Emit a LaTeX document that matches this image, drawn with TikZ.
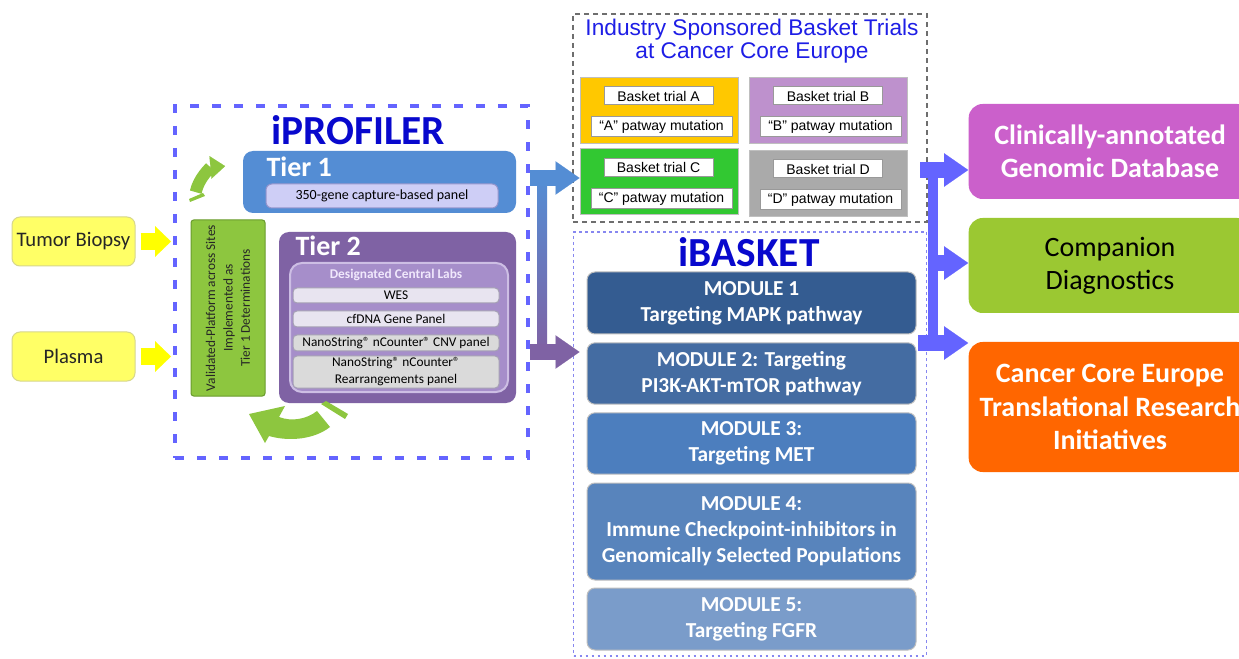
\documentclass[tikz,border=0pt]{standalone}
\usepackage{fontspec}
\setmainfont{Carlito}
\newfontfamily\arialfont{Liberation Sans}
\usetikzlibrary{arrows.meta}

\definecolor{srcyellow}{RGB}{255,255,102}
\definecolor{srcedge}{RGB}{215,215,140}
\definecolor{arrowyellow}{RGB}{255,255,0}
\definecolor{dashblue}{RGB}{100,100,255}
\definecolor{titleblue}{RGB}{8,8,205}
\definecolor{tierblue}{RGB}{84,141,212}
\definecolor{tierpurple}{RGB}{127,98,164}
\definecolor{labpurple}{RGB}{166,142,202}
\definecolor{labedge}{RGB}{205,190,228}
\definecolor{labtext}{RGB}{240,232,252}
\definecolor{panelblue}{RGB}{206,206,246}
\definecolor{paneledge}{RGB}{150,150,205}
\definecolor{itemlav}{RGB}{232,228,240}
\definecolor{itemgray}{RGB}{218,218,218}
\definecolor{itemedge}{RGB}{165,160,180}
\definecolor{leafgreen}{RGB}{141,198,63}
\definecolor{leafedge}{RGB}{105,155,45}
\definecolor{trialgray}{RGB}{110,110,110}
\definecolor{trialtitle}{RGB}{30,30,230}
\definecolor{trialA}{RGB}{255,200,0}
\definecolor{trialB}{RGB}{190,145,205}
\definecolor{trialC}{RGB}{50,200,50}
\definecolor{trialD}{RGB}{170,170,170}
\definecolor{dotblue}{RGB}{135,135,240}
\definecolor{modA}{RGB}{52,92,145}
\definecolor{modB}{RGB}{68,108,162}
\definecolor{modC}{RGB}{76,126,190}
\definecolor{modD}{RGB}{88,132,188}
\definecolor{modE}{RGB}{122,156,202}
\definecolor{outmagenta}{RGB}{203,96,203}
\definecolor{outgreen}{RGB}{155,200,50}
\definecolor{outorange}{RGB}{255,102,0}

\tikzset{every picture/.style={line width=0.75pt}}
\tikzset{
	profilerframe/.style={draw=dashblue, line width=3pt, dash pattern=on 7pt off 9.5pt, minimum width=264.75pt, minimum height=264pt, inner sep=0pt},
	trialframe/.style={draw=trialgray, line width=1.5pt, dash pattern=on 3.75pt off 3pt, minimum width=265.5pt, minimum height=156pt, inner sep=0pt},
	basketframe/.style={draw=dotblue, line width=1.1pt, dash pattern=on 2pt off 2.5pt, minimum width=264.75pt, minimum height=318pt, inner sep=0pt},
	bigtitle/.style={text=titleblue, font=\fontsize{31}{36}\selectfont\bfseries, inner sep=0pt},
	trialheading/.style={text=trialtitle, align=center, font=\arialfont\fontsize{17}{17.3}\selectfont, inner sep=0pt},
	srcbox/.style={draw=srcedge, fill=srcyellow, rounded corners=6pt, minimum width=92.25pt, minimum height=36.75pt, inner sep=0pt, text=black!85, font=\fontsize{15.5}{18}\selectfont},
	validbox/.style={draw=leafedge, fill=leafgreen, rounded corners=2pt, minimum width=132pt, minimum height=55.5pt, inner sep=0pt, align=center, text=black!85, font=\fontsize{10}{13}\selectfont},
	tierbox/.style={rounded corners=7.5pt, inner sep=0pt},
	tierlabel/.style={text=white, font=\fontsize{21}{25}\selectfont\bfseries, inner sep=0pt},
	panelbox/.style={draw=paneledge, fill=panelblue, rounded corners=4.5pt, minimum width=174pt, minimum height=18pt, inner sep=0pt, font=\fontsize{10.5}{12}\selectfont},
	labbox/.style={draw=labedge, line width=1.5pt, fill=labpurple, rounded corners=9pt, minimum width=163.5pt, minimum height=96.75pt, inner sep=0pt},
	labtitle/.style={text=labtext, font=\fontsize{10}{12}\selectfont\bfseries, inner sep=0pt},
	labitem/.style={draw=itemedge, rounded corners=3pt, minimum width=154.5pt, minimum height=12pt, inner sep=0pt, align=center, font=\fontsize{10}{12.75}\selectfont},
	trialbox/.style={draw=black!25, minimum width=118.5pt, minimum height=49.5pt, inner sep=0pt},
	trialtag/.style={draw=black!40, fill=white, minimum width=81.75pt, minimum height=13.5pt, inner sep=0pt, font=\arialfont\fontsize{10.5}{12}\selectfont},
	mutationtag/.style={trialtag, minimum width=105.75pt, minimum height=15pt},
	modulebox/.style={draw=white!75!black, rounded corners=6pt, minimum width=246.75pt, inner sep=0pt, align=center, text=white, font=\fontsize{16}{19.5}\selectfont\bfseries},
	outbox/.style={rounded corners=10.5pt, minimum width=212pt, minimum height=71.25pt, inner sep=0pt, align=center, text=white, font=\fontsize{21}{25}\selectfont\bfseries},
	fatarrow/.style={line width=12pt, -{Triangle[width=25pt,length=18pt,line width=0.1pt]}},
	yarrow/.style={arrowyellow, line width=12.5pt, -{Triangle[width=23pt,length=12pt,line width=0.1pt]}},
	cyclearrow/.style={leafgreen, -{Triangle[width=#1,length=0.65*#1,line width=0.1pt]}}
}

\begin{document}
\begin{tikzpicture}[x=0.75pt,y=0.75pt,yscale=-1,xscale=1]
	\path[use as bounding box, fill=white] (0,0) rectangle (1239,659);

	% Frames
	\node[profilerframe] (profiler) at (351.5,282) {};
	\node[trialframe] (trials) at (750,118) {};
	\node[basketframe] (ibasket) at (750,444) {};

	% Titles
	\node[bigtitle] (proftitle) at (358,130) {iPROFILER};
	\node[bigtitle] (baskettitle) at (749,252) {iBASKET};
	\node[trialheading] (trialtitle) at (752,41.5) {Industry Sponsored Basket Trials\\at Cancer Core Europe};

	% Samples
	\node[srcbox] (tumor) at (73.5,241.5) {Tumor Biopsy};
	\node[srcbox] (plasma) at (73.5,356.5) {Plasma};

	% Validated platform
	\node[validbox, rotate=90] (valid) at (228,308) {Validated-Platform across Sites\\Implemented as\\Tier 1 Determinations};

	% Tier 1
	\node[tierbox, fill=tierblue, minimum width=204.75pt, minimum height=46.5pt] (tier1) at (379.5,182) {};
	\node[tierlabel, anchor=west] (tier1label) at (266,167) {Tier 1};
	\node[panelbox] (panel) at (382,196) {350-gene capture-based panel};

	% Tier 2
	\node[tierbox, fill=tierpurple, minimum width=177.75pt, minimum height=128.25pt] (tier2) at (397.5,317.5) {};
	\node[tierlabel, anchor=west] (tier2label) at (295,246) {Tier 2};
	\node[labbox] (labs) at (399,327.5) {};
	\node[labtitle] (labstitle) at (396,275) {Designated Central Labs};
	\node[labitem, fill=itemlav, minimum height=11.25pt] (wes) at (396,295.5) {WES};
	\node[labitem, fill=itemlav] (cfdna) at (396,319) {cfDNA Gene Panel};
	\node[labitem, fill=itemgray] (cnv) at (396,343) {NanoString® nCounter® CNV panel};
	\node[labitem, fill=itemgray, minimum height=24pt] (rearr) at (396,372) {NanoString® nCounter®\\Rearrangements panel};

	% Cycle arrows
	\draw[cyclearrow=17pt, line width=9pt] (228,199) ++(192:33) arc[start angle=192, end angle=265, radius=33];
	\fill[leafgreen] (189,199) -- (203,193) -- (205,196) -- (190,202) -- cycle;
	\fill[leafgreen] (249,414) -- (285,406) -- (279,417) .. controls (292,422) and (307,419) .. (317,411) -- (330,427) .. controls (315,439) and (290,442) .. (269,436) -- (265,443) -- cycle;
	\fill[leafgreen] (321,404) -- (326,401) -- (348,414) -- (345,419) -- cycle;

	% Basket trials
	\node[trialbox, fill=trialA] (trialA) at (659,110.5) {};
	\node[trialbox, fill=trialB] (trialB) at (828.5,110.5) {};
	\node[trialbox, fill=trialC] (trialC) at (659,182) {};
	\node[trialbox, fill=trialD] (trialD) at (828.5,184) {};
	\node[trialtag] (tagA) at (658.5,96) {Basket trial A};
	\node[mutationtag] (mutA) at (661.5,127) {“A” patway mutation};
	\node[trialtag] (tagB) at (828,96) {Basket trial B};
	\node[mutationtag] (mutB) at (830.5,127) {“B” patway mutation};
	\node[trialtag] (tagC) at (658.5,167.5) {Basket trial C};
	\node[mutationtag] (mutC) at (661.5,198.5) {“C” patway mutation};
	\node[trialtag] (tagD) at (828,169) {Basket trial D};
	\node[mutationtag] (mutD) at (830.5,199.5) {“D” patway mutation};

	% Modules
	\node[modulebox, fill=modA, minimum height=46.5pt] (module1) at (751.5,303) {MODULE 1\\Targeting MAPK pathway};
	\node[modulebox, fill=modB, minimum height=46pt] (module2) at (751.5,373.5) {MODULE 2: Targeting\\PI3K-AKT-mTOR pathway};
	\node[modulebox, fill=modC, minimum height=46pt] (module3) at (751.5,443.5) {MODULE 3:\\Targeting MET};
	\node[modulebox, fill=modD, minimum height=72.75pt] (module4) at (751.5,531.5) {MODULE 4:\\Immune Checkpoint-inhibitors in\\Genomically Selected Populations};
	\node[modulebox, fill=modE, minimum height=46.5pt] (module5) at (751.5,619) {MODULE 5:\\Targeting FGFR};

	% Outcomes
	\node[outbox, fill=outmagenta] (genomicdb) at (1110,151.5) {Clinically-annotated\\Genomic Database};
	\node[outbox, fill=outgreen, text=black, font=\fontsize{21}{25}\selectfont] (companion) at (1110,265.5) {Companion\\Diagnostics};
	\node[outbox, fill=outorange, minimum height=97.5pt] (translational) at (1110,407) {Cancer Core Europe\\Translational Research\\Initiatives};

	% Sample arrows
	\draw[yarrow, shorten <=3.75pt, shorten >=1.5pt] (tumor.east) -- (profiler.west |- tumor.east);
	\draw[yarrow, shorten <=3.75pt, shorten >=1.5pt] (plasma.east) -- (profiler.west |- plasma.east);

	% Profiler to trials
	\coordinate (tapT) at (542,178);
	\coordinate (tapB) at (542,352);
	\shade[top color=tierblue, bottom color=tierpurple] ([xshift=-3.75pt]tapT) rectangle ([xshift=3.75pt]tapB);
	\draw[fatarrow, tierblue] (profiler.east |- tapT) -- (trialC.west |- tapT);
	\draw[fatarrow, tierpurple, shorten >=5.25pt] (profiler.east |- tapB) -- (module2.west |- tapB);

	% Trials to outcomes
	\coordinate (feedA) at (920,170);
	\coordinate (feedB) at (933,263);
	\coordinate (feedC) at (918,343);
	\draw[dashblue, line width=7pt] (feedB |- feedA) -- (feedB |- feedC);
	\draw[fatarrow, dashblue] (feedA) -- (genomicdb.west |- feedA);
	\draw[fatarrow, dashblue] (feedB) -- (companion.west |- feedB);
	\draw[fatarrow, dashblue] (feedC) -- (translational.west |- feedC);

\end{tikzpicture}
\end{document}
